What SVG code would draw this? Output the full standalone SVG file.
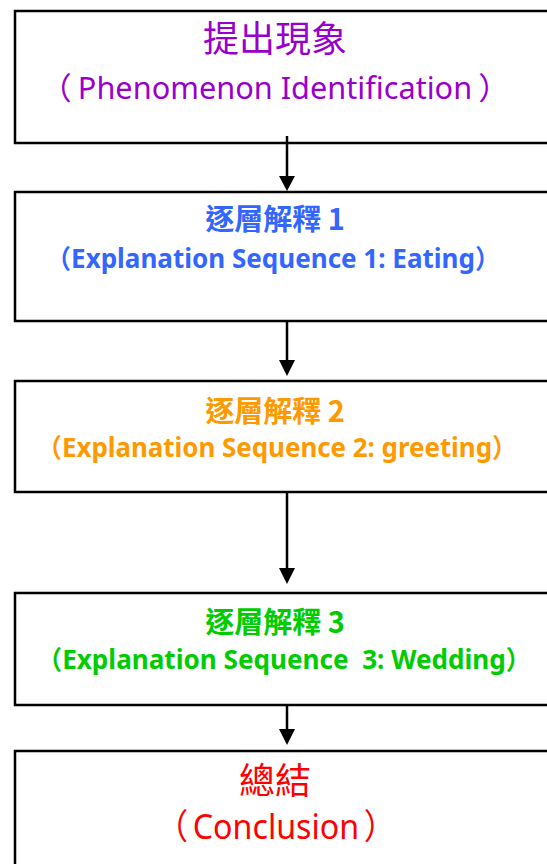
<svg xmlns="http://www.w3.org/2000/svg" width="547" height="864" viewBox="0 0 547 864">
<style>
.box{fill:#fff;stroke:#000;stroke-width:2.5}
.cjk{font-family:"Noto Sans CJK TC","Noto Sans CJK SC",sans-serif}
.lat{font-family:"Noto Sans","Open Sans",sans-serif}
.b{font-weight:bold}
.purple{fill:#9900CC}.blue{fill:#3366FF}.orange{fill:#FF9900}.green{fill:#00CC00}.red{fill:#FF0000}
.conn line{stroke:#000;stroke-width:2.5}
.conn path{fill:#000}
</style>
<rect width="547" height="864" fill="#fff"/>
<g id="node1">
<rect class="box" x="15" y="11" width="560" height="132"/>
<text class="cjk purple" x="275" y="52" font-size="36" text-anchor="middle">提出現象</text>
<text class="purple" x="40" y="99" textLength="470" lengthAdjust="spacingAndGlyphs"><tspan class="cjk" font-size="31">（</tspan><tspan class="lat" font-size="30" dx="6">Phenomenon Identification</tspan><tspan class="cjk" font-size="31" dx="6">）</tspan></text>
</g>
<g id="node2">
<rect class="box" x="15" y="192" width="560" height="129"/>
<text class="cjk blue b" x="275" y="230" font-size="29" text-anchor="middle">逐層解釋 1</text>
<text class="blue b" x="46" y="268" textLength="454" lengthAdjust="spacingAndGlyphs"><tspan class="cjk" font-size="26">（</tspan><tspan class="lat" font-size="27">Explanation Sequence 1: Eating</tspan><tspan class="cjk" font-size="26">）</tspan></text>
</g>
<g id="node3">
<rect class="box" x="15" y="381" width="560" height="111"/>
<text class="cjk orange b" x="275" y="422" font-size="29" text-anchor="middle">逐層解釋 2</text>
<text class="orange b" x="37" y="457" textLength="480" lengthAdjust="spacingAndGlyphs"><tspan class="cjk" font-size="26">（</tspan><tspan class="lat" font-size="27">Explanation Sequence 2: greeting</tspan><tspan class="cjk" font-size="26">）</tspan></text>
</g>
<g id="node4">
<rect class="box" x="15" y="593" width="560" height="112"/>
<text class="cjk green b" x="275" y="633" font-size="29" text-anchor="middle">逐層解釋 3</text>
<text class="green b" x="37" y="669" textLength="494" lengthAdjust="spacingAndGlyphs" style="white-space:pre"><tspan class="cjk" font-size="26">（</tspan><tspan class="lat" font-size="27">Explanation Sequence  3: Wedding</tspan><tspan class="cjk" font-size="26">）</tspan></text>
</g>
<g id="node5">
<rect class="box" x="15" y="751" width="560" height="150"/>
<text class="cjk red" x="275" y="794" font-size="36" text-anchor="middle">總結</text>
<text class="red" x="156" y="839" textLength="240" lengthAdjust="spacingAndGlyphs"><tspan class="cjk" font-size="35">（</tspan><tspan class="lat" font-size="35" dx="5">Conclusion</tspan><tspan class="cjk" font-size="35" dx="5">）</tspan></text>
</g>
<g class="conn" id="connectors">
<line x1="287" y1="136" x2="287" y2="177"/>
<path d="M279,176 L295,176 L287,191 Z"/>
<line x1="287" y1="321" x2="287" y2="361"/>
<path d="M279,360 L295,360 L287,376 Z"/>
<line x1="287" y1="493" x2="287" y2="569"/>
<path d="M279,568 L295,568 L287,584 Z"/>
<line x1="287" y1="705" x2="287" y2="730"/>
<path d="M279,729 L295,729 L287,745 Z"/>
</g>
</svg>
